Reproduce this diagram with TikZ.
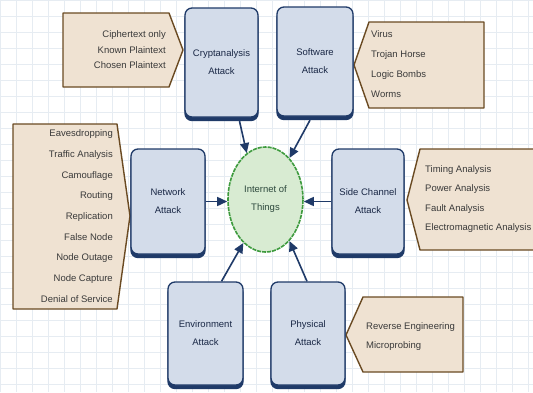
\documentclass[tikz,border=0pt]{standalone}
\usepackage{fontspec}
\setmainfont{Liberation Sans}
\usetikzlibrary{arrows.meta,shapes.geometric}
\definecolor{boxfill}{HTML}{D3DCEA}
\definecolor{navy}{HTML}{1F3A68}
\definecolor{boxtext}{HTML}{1A2846}
\definecolor{calfill}{HTML}{EFE2D2}
\definecolor{calline}{HTML}{6A4A22}
\definecolor{caltext}{HTML}{3A3A3A}
\definecolor{iotfill}{HTML}{D8EBD2}
\definecolor{iotline}{HTML}{3E9B3E}
\definecolor{iottext}{HTML}{2E4A3E}
\definecolor{gridc}{HTML}{E6ECF2}
\begin{document}
\begin{tikzpicture}[x=1pt,y=-1pt,
  attackbox/.style={draw=navy, line width=1.3pt, fill=boxfill, rounded corners=7pt,
    align=center, inner sep=0pt, text=boxtext, font=\fontsize{9.5}{18}\selectfont,
    preaction={draw=navy, fill=navy, transform canvas={yshift=-3.5pt}}},
  callout/.style={draw=calline, line width=1.4pt, fill=calfill, line join=round},
  listtext/.style={text=caltext, inner sep=0pt},
  conn/.style={draw=navy, line width=1.6pt, -{Triangle[length=10pt,width=9pt]}},
]
\useasboundingbox (0,0) rectangle (533,392);
\fill[white] (0,0) rectangle (533,392);
\foreach \gx in {0,16,...,528} \draw[gridc, line width=0.5pt] (\gx,0) -- (\gx,392);
\foreach \gy in {0,16,...,384} \draw[gridc, line width=0.5pt] (0,\gy) -- (533,\gy);

% callouts
\draw[callout] (63,13) -- (169,13) -- (183,50) -- (169,87) -- (63,87) -- cycle;
\node[listtext, anchor=east, align=right, font=\fontsize{9.5}{15.5}\selectfont] (cryptlist) at (166,50)
  {Ciphertext only\\Known Plaintext\\Chosen Plaintext};

\draw[callout] (484,22) -- (369,22) -- (354,65) -- (369,108) -- (484,108) -- cycle;
\node[listtext, anchor=west, align=left, font=\fontsize{9.5}{20}\selectfont] (softlist) at (371,64)
  {Virus\\Trojan Horse\\Logic Bombs\\Worms};

\draw[callout] (13,124) -- (117,124) -- (130,216) -- (117,309) -- (13,309) -- cycle;
\node[listtext, anchor=east, align=right, font=\fontsize{9.5}{20.7}\selectfont] (netlist) at (113,216)
  {Eavesdropping\\Traffic Analysis\\Camouflage\\Routing\\Replication\\False Node\\Node Outage\\Node Capture\\Denial of Service};

\draw[callout] (545,149) -- (420,149) -- (407,200) -- (420,250) -- (545,250) -- cycle;
\node[listtext, anchor=west, align=left, font=\fontsize{9.5}{19.5}\selectfont] (sidelist) at (425,199)
  {Timing Analysis\\Power Analysis\\Fault Analysis\\Electromagnetic Analysis};

\draw[callout] (463,297) -- (363,297) -- (346,335) -- (363,372) -- (463,372) -- cycle;
\node[listtext, anchor=west, align=left, font=\fontsize{9.5}{19}\selectfont] (physlist) at (366,337)
  {Reverse Engineering\\Microprobing};

% attack boxes
\node[attackbox, minimum width=73, minimum height=109] (crypt) at (221.5,62.5) {Cryptanalysis\\Attack};
\node[attackbox, minimum width=76, minimum height=109] (soft) at (315,61.5) {Software\\Attack};
\node[attackbox, minimum width=74, minimum height=105] (net) at (168,201.5) {Network\\Attack};
\node[attackbox, minimum width=72, minimum height=105] (side) at (368,201.5) {Side Channel\\Attack};
\node[attackbox, minimum width=75, minimum height=103] (env) at (205.5,333.5) {Environment\\Attack};
\node[attackbox, minimum width=74, minimum height=103] (phys) at (308,333.5) {Physical\\Attack};

% centre
\node[ellipse, draw=iotline, fill=iotfill, line width=1.6pt, dash pattern=on 4pt off 1pt,
  minimum width=75, minimum height=105, inner sep=0pt, align=center,
  text=iottext, font=\fontsize{9.5}{18}\selectfont] (iot) at (265.5,199.5) {Internet of\\Things};

% connectors
\draw[conn] ([xshift=18]crypt.south) ++(0,3.5) -- (iot.112);
\draw[conn] ([xshift=-5]soft.south) ++(0,3.5) -- (iot.60);
\draw[conn] (net.east) -- (iot.west |- net.east);
\draw[conn] (side.west) -- (iot.east |- side.west);
\draw[conn] ([xshift=16]env.north) -- (iot.243);
\draw[conn] ([xshift=-1]phys.north) -- (iot.300);
\end{tikzpicture}
\end{document}
